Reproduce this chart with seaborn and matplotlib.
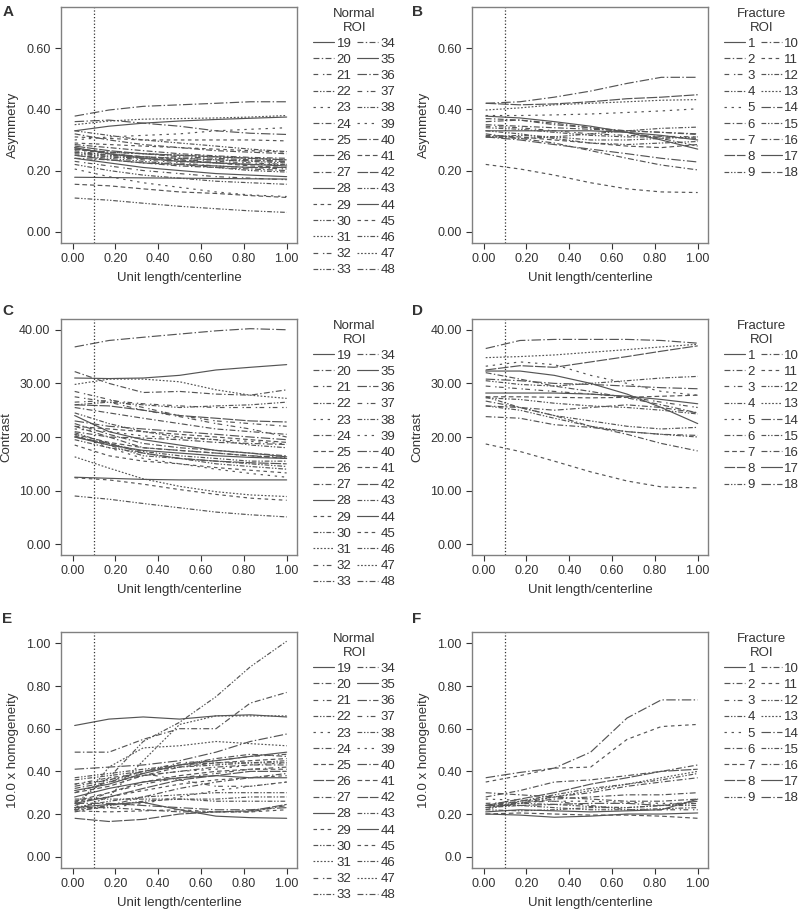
import pandas as pd
import seaborn as sns
import matplotlib.pyplot as plt

# positions along the centerline where each ROI curve was read
pos = [0.01, 0.17, 0.33, 0.50, 0.67, 0.83, 1.00]

# Asymmetry, normal ROIs 19-48
asym_normal = {
    19: [0.178, 0.177, 0.176, 0.175, 0.174, 0.173, 0.172],
    20: [0.275, 0.255, 0.245, 0.240, 0.235, 0.232, 0.230],
    21: [0.260, 0.245, 0.235, 0.225, 0.215, 0.210, 0.205],
    22: [0.250, 0.240, 0.230, 0.220, 0.210, 0.200, 0.195],
    23: [0.205, 0.180, 0.160, 0.145, 0.130, 0.120, 0.115],
    24: [0.270, 0.260, 0.255, 0.245, 0.240, 0.235, 0.230],
    25: [0.155, 0.150, 0.140, 0.130, 0.125, 0.118, 0.112],
    26: [0.280, 0.265, 0.255, 0.250, 0.245, 0.240, 0.235],
    27: [0.240, 0.235, 0.225, 0.215, 0.210, 0.205, 0.200],
    28: [0.275, 0.255, 0.240, 0.230, 0.225, 0.220, 0.215],
    29: [0.310, 0.305, 0.300, 0.300, 0.300, 0.300, 0.297],
    30: [0.255, 0.245, 0.240, 0.230, 0.225, 0.220, 0.220],
    31: [0.350, 0.362, 0.368, 0.370, 0.372, 0.375, 0.380],
    32: [0.230, 0.215, 0.200, 0.190, 0.180, 0.175, 0.170],
    33: [0.220, 0.200, 0.185, 0.175, 0.165, 0.160, 0.155],
    34: [0.320, 0.300, 0.285, 0.275, 0.265, 0.260, 0.255],
    35: [0.330, 0.345, 0.355, 0.362, 0.367, 0.371, 0.375],
    36: [0.378, 0.398, 0.410, 0.415, 0.420, 0.425, 0.425],
    37: [0.265, 0.250, 0.240, 0.235, 0.230, 0.225, 0.220],
    38: [0.260, 0.250, 0.245, 0.240, 0.235, 0.230, 0.225],
    39: [0.300, 0.310, 0.315, 0.320, 0.330, 0.335, 0.340],
    40: [0.360, 0.365, 0.355, 0.345, 0.330, 0.322, 0.318],
    41: [0.270, 0.255, 0.245, 0.235, 0.225, 0.215, 0.210],
    42: [0.250, 0.235, 0.225, 0.220, 0.215, 0.210, 0.210],
    43: [0.330, 0.315, 0.300, 0.290, 0.280, 0.270, 0.262],
    44: [0.240, 0.225, 0.210, 0.200, 0.190, 0.185, 0.180],
    45: [0.290, 0.285, 0.280, 0.275, 0.270, 0.265, 0.260],
    46: [0.110, 0.103, 0.093, 0.083, 0.075, 0.068, 0.063],
    47: [0.270, 0.260, 0.255, 0.250, 0.245, 0.240, 0.235],
    48: [0.285, 0.275, 0.265, 0.255, 0.248, 0.243, 0.240],
}

# Asymmetry, fracture ROIs 1-18
asym_fracture = {
    1: [0.330, 0.330, 0.330, 0.330, 0.325, 0.315, 0.300],
    2: [0.350, 0.345, 0.340, 0.335, 0.330, 0.325, 0.320],
    3: [0.345, 0.340, 0.330, 0.320, 0.315, 0.312, 0.310],
    4: [0.330, 0.320, 0.305, 0.290, 0.285, 0.290, 0.295],
    5: [0.380, 0.380, 0.382, 0.385, 0.390, 0.395, 0.402],
    6: [0.370, 0.365, 0.350, 0.340, 0.330, 0.325, 0.318],
    7: [0.315, 0.310, 0.300, 0.290, 0.280, 0.275, 0.285],
    8: [0.420, 0.415, 0.418, 0.425, 0.435, 0.440, 0.448],
    9: [0.310, 0.305, 0.310, 0.320, 0.330, 0.338, 0.342],
    10: [0.320, 0.305, 0.290, 0.265, 0.240, 0.218, 0.202],
    11: [0.220, 0.205, 0.185, 0.160, 0.140, 0.130, 0.128],
    12: [0.340, 0.335, 0.325, 0.315, 0.310, 0.310, 0.305],
    13: [0.398, 0.405, 0.415, 0.420, 0.425, 0.430, 0.432],
    14: [0.420, 0.425, 0.440, 0.460, 0.485, 0.505, 0.505],
    15: [0.310, 0.315, 0.310, 0.300, 0.300, 0.305, 0.310],
    16: [0.360, 0.365, 0.355, 0.340, 0.325, 0.305, 0.280],
    17: [0.378, 0.372, 0.360, 0.345, 0.325, 0.300, 0.270],
    18: [0.310, 0.300, 0.285, 0.270, 0.255, 0.240, 0.228],
}

# Contrast, normal ROIs 19-48
contrast_normal = {
    19: [24.0, 21.0, 19.5, 18.5, 17.5, 17.0, 16.3],
    20: [22.5, 20.5, 18.8, 18.0, 17.5, 17.0, 16.5],
    21: [26.5, 26.8, 26.2, 25.8, 25.5, 25.5, 25.5],
    22: [20.2, 18.5, 16.5, 16.0, 15.5, 15.0, 14.5],
    23: [20.5, 18.0, 16.0, 15.0, 14.0, 13.2, 12.5],
    24: [25.5, 24.5, 23.5, 22.5, 21.5, 21.0, 20.5],
    25: [22.0, 21.5, 21.0, 20.5, 20.0, 19.5, 19.0],
    26: [20.0, 18.8, 17.0, 16.0, 15.5, 15.2, 15.0],
    27: [21.0, 20.0, 19.8, 19.5, 19.0, 18.8, 18.6],
    28: [12.5, 12.3, 12.1, 12.0, 12.0, 12.0, 12.0],
    29: [12.4, 12.0, 11.2, 10.2, 9.3, 8.6, 8.2],
    30: [26.0, 26.5, 26.0, 25.5, 25.8, 26.0, 26.5],
    31: [16.3, 14.2, 12.2, 10.8, 9.8, 9.2, 8.9],
    32: [28.5, 27.0, 25.5, 24.0, 23.0, 22.5, 22.0],
    33: [20.8, 18.8, 17.3, 16.5, 16.0, 15.5, 15.5],
    34: [32.2, 30.0, 28.3, 28.5, 28.0, 27.8, 28.8],
    35: [31.0, 30.9, 31.0, 31.5, 32.5, 33.0, 33.5],
    36: [36.8, 38.0, 38.6, 39.2, 39.8, 40.2, 40.0],
    37: [27.5, 26.5, 25.0, 23.8, 22.5, 21.5, 20.0],
    38: [24.5, 22.5, 21.0, 20.0, 19.5, 18.5, 18.0],
    39: [21.5, 21.0, 20.2, 19.8, 19.5, 19.2, 18.7],
    40: [23.0, 22.0, 21.5, 21.0, 20.5, 20.0, 19.5],
    41: [20.5, 19.0, 18.0, 17.5, 17.0, 16.5, 16.0],
    42: [26.0, 25.8, 25.0, 24.0, 23.5, 23.0, 22.8],
    43: [19.5, 18.0, 17.0, 16.0, 15.0, 14.5, 14.0],
    44: [20.0, 18.5, 17.5, 17.0, 16.5, 16.2, 16.0],
    45: [18.5, 16.5, 15.5, 15.0, 14.3, 13.8, 13.3],
    46: [9.0, 8.4, 7.6, 6.8, 6.0, 5.5, 5.1],
    47: [29.8, 30.8, 30.8, 30.3, 28.8, 27.8, 27.2],
    48: [22.0, 20.0, 18.0, 17.5, 17.0, 16.5, 16.2],
}

# Contrast, fracture ROIs 1-18
contrast_fracture = {
    1: [28.2, 28.2, 28.2, 28.0, 27.6, 27.0, 26.2],
    2: [32.0, 30.8, 29.5, 28.5, 27.3, 26.0, 24.5],
    3: [29.5, 29.0, 28.5, 28.0, 27.5, 26.5, 25.5],
    4: [27.3, 27.0, 26.3, 25.8, 25.5, 25.0, 24.3],
    5: [33.2, 34.0, 33.5, 31.5, 30.0, 28.5, 27.8],
    6: [25.8, 25.5, 25.0, 25.5, 26.0, 25.5, 24.5],
    7: [27.5, 27.5, 27.4, 27.3, 27.4, 27.6, 27.8],
    8: [32.5, 33.3, 33.0, 34.0, 35.0, 36.0, 37.0],
    9: [27.5, 25.5, 24.0, 23.0, 22.0, 21.5, 21.8],
    10: [26.7, 25.5, 24.0, 22.0, 20.5, 18.8, 17.4],
    11: [18.7, 17.3, 15.5, 13.5, 11.8, 10.7, 10.5],
    12: [30.5, 29.8, 29.5, 30.0, 30.5, 31.0, 31.3],
    13: [34.8, 35.0, 35.3, 35.8, 36.3, 36.8, 37.3],
    14: [36.5, 38.0, 38.2, 38.2, 38.2, 38.0, 37.5],
    15: [25.8, 25.0, 23.5, 22.0, 21.0, 20.5, 20.0],
    16: [23.8, 23.5, 22.3, 21.8, 21.0, 20.5, 20.3],
    17: [32.3, 32.3, 31.5, 30.0, 28.0, 25.5, 22.5],
    18: [30.8, 30.5, 30.0, 29.8, 29.5, 29.2, 29.0],
}

# 10 x homogeneity, normal ROIs 19-48
homog_normal = {
    19: [0.615, 0.645, 0.655, 0.645, 0.660, 0.665, 0.655],
    20: [0.33, 0.36, 0.40, 0.43, 0.46, 0.48, 0.47],
    21: [0.30, 0.35, 0.40, 0.44, 0.45, 0.47, 0.48],
    22: [0.37, 0.39, 0.41, 0.43, 0.44, 0.44, 0.44],
    23: [0.22, 0.23, 0.25, 0.28, 0.31, 0.33, 0.35],
    24: [0.32, 0.35, 0.38, 0.40, 0.42, 0.43, 0.43],
    25: [0.26, 0.30, 0.35, 0.38, 0.40, 0.41, 0.41],
    26: [0.25, 0.28, 0.32, 0.36, 0.38, 0.40, 0.40],
    27: [0.49, 0.49, 0.55, 0.60, 0.60, 0.72, 0.77],
    28: [0.23, 0.245, 0.255, 0.22, 0.19, 0.183, 0.18],
    29: [0.215, 0.21, 0.215, 0.22, 0.21, 0.21, 0.22],
    30: [0.23, 0.26, 0.28, 0.29, 0.30, 0.30, 0.30],
    31: [0.22, 0.28, 0.45, 0.62, 0.66, 0.66, 0.66],
    32: [0.34, 0.37, 0.39, 0.36, 0.33, 0.33, 0.35],
    33: [0.22, 0.24, 0.26, 0.27, 0.27, 0.28, 0.28],
    34: [0.21, 0.24, 0.28, 0.32, 0.35, 0.37, 0.39],
    35: [0.28, 0.32, 0.35, 0.37, 0.38, 0.37, 0.37],
    36: [0.41, 0.42, 0.43, 0.45, 0.49, 0.54, 0.575],
    37: [0.24, 0.30, 0.34, 0.37, 0.39, 0.41, 0.42],
    38: [0.25, 0.37, 0.54, 0.63, 0.75, 0.89, 1.01],
    39: [0.34, 0.36, 0.38, 0.40, 0.41, 0.43, 0.44],
    40: [0.25, 0.25, 0.24, 0.23, 0.22, 0.22, 0.23],
    41: [0.30, 0.33, 0.38, 0.42, 0.44, 0.45, 0.46],
    42: [0.18, 0.165, 0.175, 0.20, 0.21, 0.215, 0.245],
    43: [0.27, 0.27, 0.27, 0.27, 0.26, 0.26, 0.26],
    44: [0.31, 0.34, 0.39, 0.43, 0.45, 0.47, 0.49],
    45: [0.26, 0.28, 0.31, 0.34, 0.36, 0.37, 0.38],
    46: [0.36, 0.38, 0.40, 0.42, 0.43, 0.44, 0.45],
    47: [0.22, 0.42, 0.51, 0.52, 0.54, 0.53, 0.52],
    48: [0.23, 0.23, 0.22, 0.21, 0.21, 0.21, 0.24],
}

# 10 x homogeneity, fracture ROIs 1-18
homog_fracture = {
    1: [0.21, 0.22, 0.215, 0.21, 0.215, 0.22, 0.27],
    2: [0.23, 0.25, 0.27, 0.28, 0.29, 0.29, 0.30],
    3: [0.25, 0.255, 0.26, 0.24, 0.22, 0.22, 0.22],
    4: [0.22, 0.215, 0.22, 0.23, 0.23, 0.24, 0.25],
    5: [0.27, 0.265, 0.26, 0.26, 0.255, 0.25, 0.25],
    6: [0.24, 0.26, 0.28, 0.30, 0.33, 0.35, 0.37],
    7: [0.20, 0.205, 0.20, 0.195, 0.195, 0.19, 0.18],
    8: [0.24, 0.27, 0.30, 0.34, 0.37, 0.40, 0.41],
    9: [0.22, 0.26, 0.29, 0.32, 0.34, 0.36, 0.39],
    10: [0.28, 0.31, 0.35, 0.36, 0.38, 0.40, 0.43],
    11: [0.35, 0.38, 0.415, 0.42, 0.55, 0.61, 0.62],
    12: [0.23, 0.24, 0.23, 0.22, 0.22, 0.225, 0.23],
    13: [0.23, 0.25, 0.28, 0.31, 0.34, 0.37, 0.40],
    14: [0.37, 0.395, 0.415, 0.49, 0.65, 0.735, 0.735],
    15: [0.24, 0.25, 0.245, 0.235, 0.23, 0.24, 0.24],
    16: [0.30, 0.29, 0.28, 0.27, 0.26, 0.26, 0.27],
    17: [0.20, 0.195, 0.185, 0.19, 0.20, 0.20, 0.205],
    18: [0.24, 0.24, 0.245, 0.25, 0.25, 0.24, 0.26],
}

x_ticks = [0, 0.2, 0.4, 0.6, 0.8, 1.0]
x_ticklabels = ['0.00', '0.20', '0.40', '0.60', '0.80', '1.00']
asym_ticks = [0, 0.2, 0.4, 0.6]
asym_ticklabels = ['0.00', '0.20', '0.40', '0.60']
contrast_ticks = [0, 10, 20, 30, 40]
contrast_ticklabels = ['0.00', '10.00', '20.00', '30.00', '40.00']
homog_ticks = [0, 0.2, 0.4, 0.6, 0.8, 1.0]
homog_ticklabels = ['0.00', '0.20', '0.40', '0.60', '0.80', '1.00']
homog_ticklabels_f = ['0.0', '0.20', '0.40', '0.60', '0.80', '1.00']

# line patterns (style only)
patterns = {
    'solid': '',
    'dd': (5, 2, 1.2, 2),
    'ldd': (8, 2, 1.2, 2),
    'dgd': (4, 4, 1.2, 2),
    'ddd': (4, 1.5, 1.2, 1.5, 1.2, 1.5),
    'sdot': (2, 4),
    'dash': (4, 2.5),
    'sdash': (3, 3),
    'long': (9, 1.5),
    'dot': (1.5, 1.5),
}
normal_style = ['solid', 'dd', 'dgd', 'ddd', 'sdot', 'dd', 'dash', 'long', 'dd', 'solid',
                'sdash', 'ddd', 'dot', 'dgd', 'ddd', 'dd', 'solid', 'ldd', 'dgd', 'ddd',
                'sdot', 'ldd', 'dash', 'long', 'ddd', 'solid', 'sdash', 'ddd', 'dot', 'dd']
fracture_style = ['solid', 'dd', 'dgd', 'ddd', 'sdot', 'dd', 'dash', 'long', 'ddd',
                  'dd', 'sdash', 'ddd', 'dot', 'ldd', 'ddd', 'dd', 'solid', 'ldd']

sns.set_theme(style='ticks')
plt.rcParams['font.family'] = ['Liberation Sans', 'DejaVu Sans']
plt.rcParams['text.color'] = '#333333'
plt.rcParams['axes.labelcolor'] = '#333333'

fig = plt.figure(figsize=(7.98, 9.11), dpi=100)

lefts = [0.0764, 0.5915]
bottoms = [0.7333, 0.3908, 0.0472]
w, h = 0.2957, 0.259

panels = [
    ('A', asym_normal, 'Asymmetry', (-0.037, 0.735), asym_ticks, asym_ticklabels, 'Normal\nROI'),
    ('B', asym_fracture, 'Asymmetry', (-0.037, 0.735), asym_ticks, asym_ticklabels, 'Fracture\nROI'),
    ('C', contrast_normal, 'Contrast', (-2.0, 42.0), contrast_ticks, contrast_ticklabels, 'Normal\nROI'),
    ('D', contrast_fracture, 'Contrast', (-2.0, 42.0), contrast_ticks, contrast_ticklabels, 'Fracture\nROI'),
    ('E', homog_normal, '10.0 x homogeneity', (-0.053, 1.053), homog_ticks, homog_ticklabels, 'Normal\nROI'),
    ('F', homog_fracture, '10.0 x homogeneity', (-0.053, 1.053), homog_ticks, homog_ticklabels_f, 'Fracture\nROI'),
]

letter_y = [0.994, 0.994, 0.666, 0.666, 0.328, 0.328]
letter_x = [0.003, 0.516, 0.003, 0.516, 0.003, 0.516]

for i, (letter, data, ylab, ylim, yt, ytl, title) in enumerate(panels):
    ax = fig.add_axes([lefts[i % 2], bottoms[i // 2], w, h])
    rows = [(roi, x, y) for roi, ys in data.items() for x, y in zip(pos, ys)]
    df = pd.DataFrame(rows, columns=['ROI', 'pos', 'val'])
    styles = normal_style if title.startswith('Normal') else fracture_style
    dash_map = {roi: patterns[s] for roi, s in zip(data.keys(), styles)}

    sns.lineplot(data=df, x='pos', y='val', style='ROI', dashes=dash_map,
                 color='#555555', linewidth=0.85, errorbar=None, legend='full', ax=ax)
    ax.axvline(0.1, color='#333333', linestyle=':', linewidth=0.9)

    ax.set_xlim(-0.054, 1.048)
    ax.set_ylim(*ylim)
    ax.set_xticks(x_ticks, labels=x_ticklabels)
    ax.set_yticks(yt, labels=ytl)
    ax.set_xlabel('Unit length/centerline', fontsize=9.5, labelpad=5)
    ax.set_ylabel(ylab, fontsize=9.5, labelpad=5)
    ax.tick_params(labelsize=9, colors='#333333', length=4, width=0.8, direction='out')
    for sp in ax.spines.values():
        sp.set_color('#808080')
        sp.set_linewidth(1.0)

    sns.move_legend(ax, 'upper left', bbox_to_anchor=(1.04, 1.025), ncol=2, title=title,
                    frameon=False, fontsize=9.5, title_fontsize=9.5, handlelength=1.6,
                    handletextpad=0.2, columnspacing=0.4, labelspacing=0.3, borderpad=0)
    leg = ax.get_legend()
    leg.get_title().set_multialignment('center')

    fig.text(letter_x[i], letter_y[i], letter, fontsize=11, fontweight='bold', va='top')

fig.savefig('out.png', dpi=100)
